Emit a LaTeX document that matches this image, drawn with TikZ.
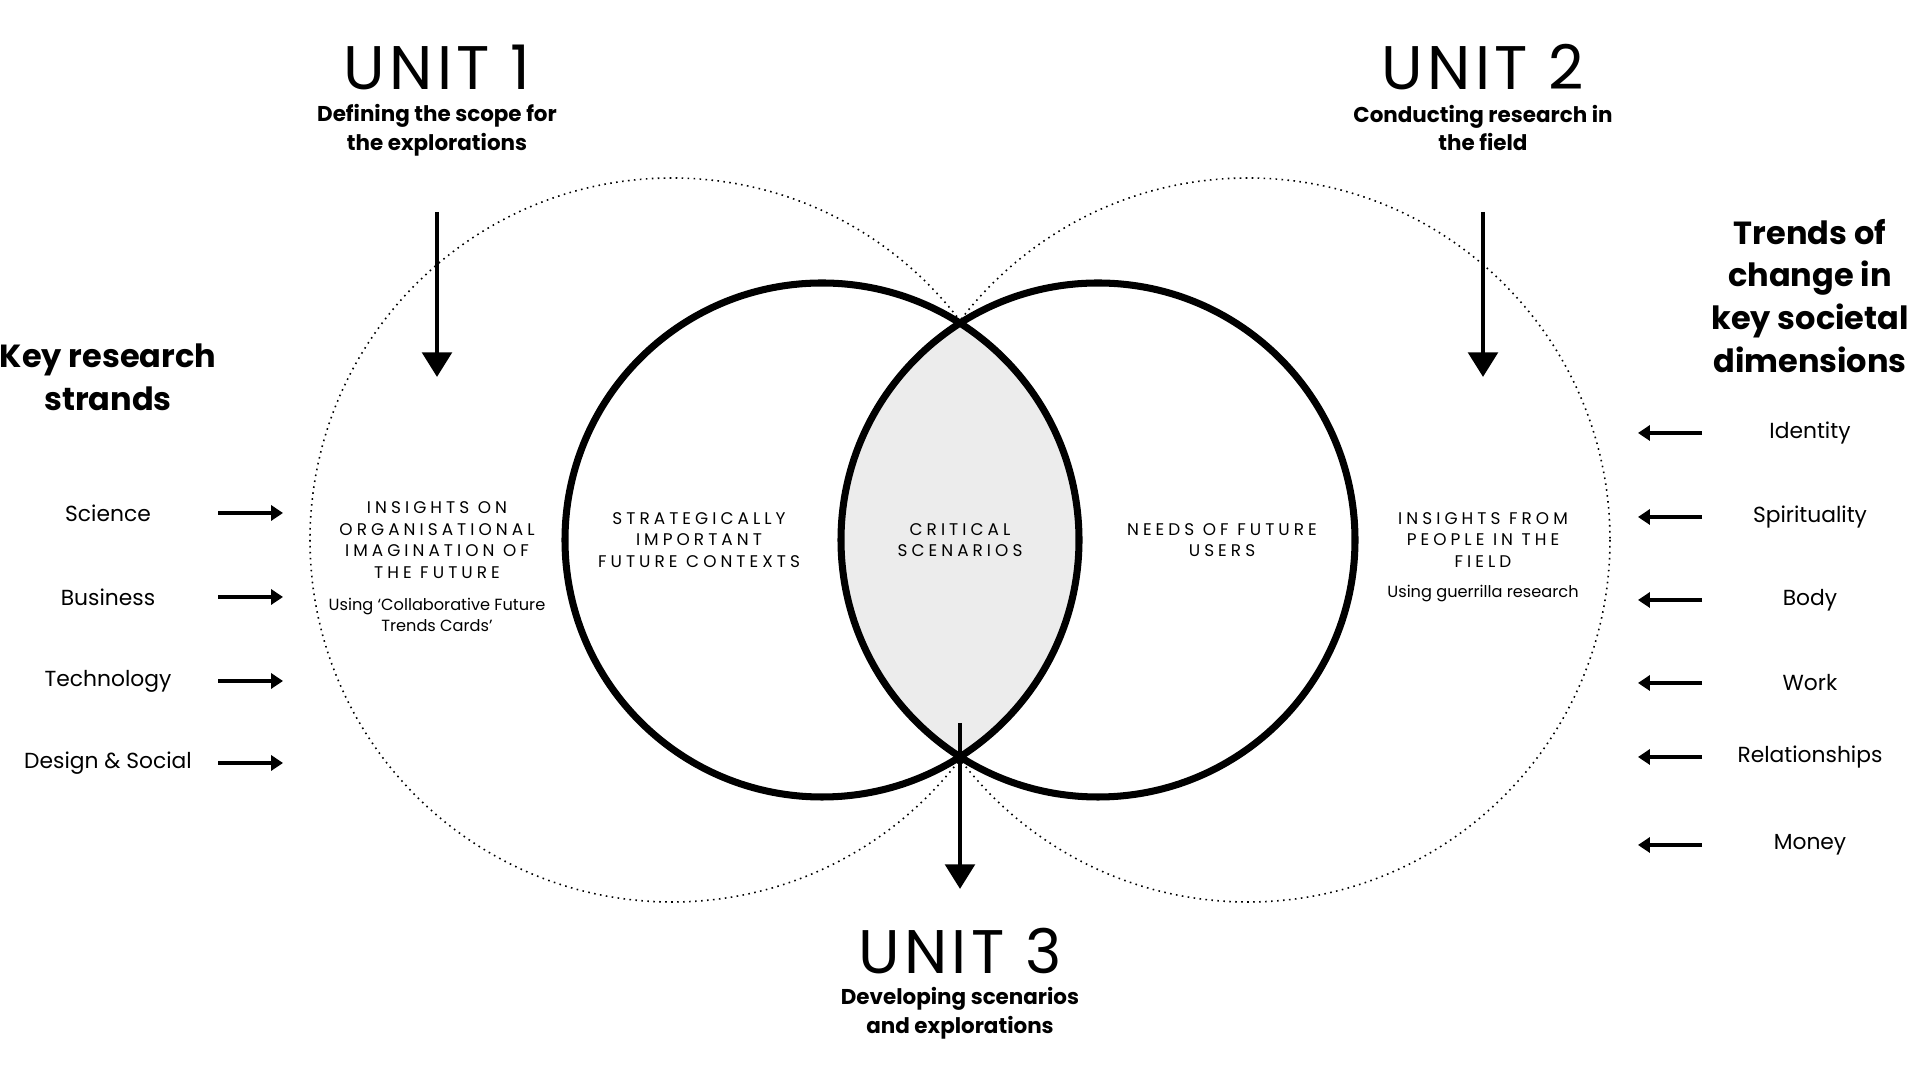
\documentclass[tikz,border=0pt]{standalone}
\usepackage{fontspec}
\setmainfont{Poppins}
\newfontfamily\spacedcaps[LetterSpace=24]{Poppins}
\newfontfamily\unitfont[LetterSpace=7]{Poppins}
\usetikzlibrary{arrows.meta}

\begin{document}
\begin{tikzpicture}[x=0.01cm, y=-0.01cm,
    unit/.style={font=\unitfont\fontsize{17.5}{19}\selectfont},
    sub/.style={align=center, font=\bfseries\fontsize{6.1}{8.2}\selectfont},
    head/.style={align=center, font=\bfseries\fontsize{9.1}{12.2}\selectfont},
    item/.style={font=\fontsize{6.2}{7.7}\selectfont},
    caps/.style={align=center, font=\spacedcaps\fontsize{4.8}{6.1}\selectfont},
    note/.style={align=center, font=\fontsize{4.6}{6.2}\selectfont},
    bigarrow/.style={line width=1.4pt, -{Triangle[length=7pt, width=8.3pt]}},
    smallarrow/.style={line width=0.95pt, -{Triangle[length=3.4pt, width=4.3pt]}},
    dots/.style={line width=0.45pt, dash pattern=on 0.45pt off 1.25pt}]
\useasboundingbox (0,0) rectangle (1920,1080);

\draw[dots] (672,540) circle (362);
\draw[dots] (1248,540) circle (362);
\begin{scope}
    \clip (822,540) circle (257);
    \fill[gray!15] (1098,540) circle (257);
\end{scope}
\draw[line width=2pt] (822,540) circle (257);
\draw[line width=2pt] (1098,540) circle (257);

\node[unit] (unit1) at (437,67) {UNIT 1};
\node[sub] (sub1) at (437,130) {Defining the scope for\\the explorations};
\node[unit] (unit2) at (1483,67) {UNIT 2};
\node[sub] (sub2) at (1483,128) {Conducting research in\\the field};
\node[unit] (unit3) at (960,951) {UNIT 3};
\node[sub] (sub3) at (960,1013) {Developing scenarios\\and explorations};

\coordinate (arr1a) at (437,212);
\coordinate (arr1b) at (437,377);
\coordinate (arr2a) at (1483,212);
\coordinate (arr2b) at (1483,377);
\coordinate (arr3a) at (960,723);
\coordinate (arr3b) at (960,889);
\draw[bigarrow] (arr1a)--(arr1b);
\draw[bigarrow] (arr2a)--(arr2b);
\draw[bigarrow] (arr3a)--(arr3b);

\node[caps] (orgimag) at (437,540) {INSIGHTS ON\\ORGANISATIONAL\\IMAGINATION OF\\THE FUTURE};
\node[note] (cards) at (437,615) {Using ‘Collaborative Future\\Trends Cards’};
\node[caps] (contexts) at (699,540) {STRATEGICALLY\\IMPORTANT\\FUTURE CONTEXTS};
\node[caps] (critical) at (960,540) {CRITICAL\\SCENARIOS};
\node[caps] (needs) at (1222,540) {NEEDS OF FUTURE\\USERS};
\node[caps] (people) at (1483,540) {INSIGHTS FROM\\PEOPLE IN THE\\FIELD};
\node[note] (guerrilla) at (1483,594) {Using guerrilla research};

\node[head] (strands) at (108,377) {Key research\\strands};
\foreach \lbl/\y [count=\i] in {Science/513, Business/597, Technology/681, Design \& Social/763}
{
    \node[item] (strand\i) at (108,\y) {\lbl};
    \coordinate (strand\i a) at (218,\y);
    \coordinate (strand\i b) at (283,\y);
    \draw[smallarrow] (strand\i a)--(strand\i b);
}

\node[head] (trends) at (1810,296) {Trends of\\change in\\key societal\\dimensions};
\foreach \lbl/\y [count=\i] in {Identity/433, Spirituality/517, Body/600, Work/683, Relationships/757, Money/845}
{
    \node[item] (dim\i) at (1810,\y) {\lbl};
    \coordinate (dim\i a) at (1702,\y);
    \coordinate (dim\i b) at (1638,\y);
    \draw[smallarrow] (dim\i a)--(dim\i b);
}
\end{tikzpicture}
\end{document}
